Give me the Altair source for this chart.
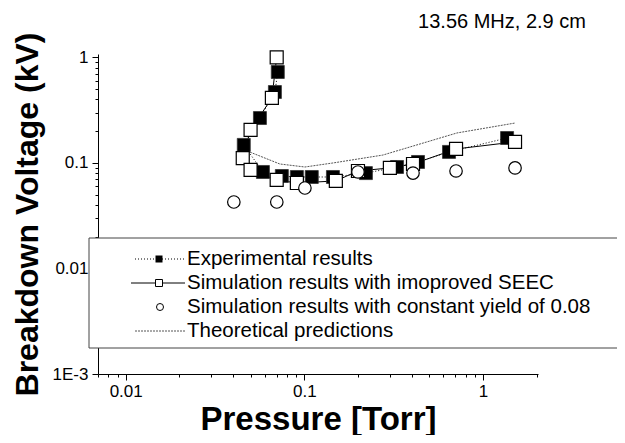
import altair as alt
import pandas as pd

# ---- data ----
exp_p = [0.0710, 0.0684, 0.0564, 0.0458, 0.0586, 0.0748, 0.0908, 0.110, 0.1445, 0.221, 0.330, 0.4325, 0.645, 1.363]
exp_v = [0.726, 0.469, 0.266, 0.148, 0.082, 0.0751, 0.0735, 0.0735, 0.0735, 0.080, 0.0914, 0.102, 0.127, 0.172]

sim_p = [0.070, 0.0658, 0.050, 0.0452, 0.050, 0.070, 0.0908, 0.150, 0.1995, 0.301, 0.4055, 0.706, 1.51]
sim_v = [1.0, 0.412, 0.205, 0.111, 0.0857, 0.0689, 0.0645, 0.0674, 0.0838, 0.0895, 0.0976, 0.1355, 0.158]

const_p = [0.0403, 0.0701, 0.1007, 0.1995, 0.4055, 0.706, 1.51]
const_v = [0.0426, 0.0426, 0.0578, 0.082, 0.080, 0.0838, 0.0895]

theo_p = [0.0496, 0.0729, 0.1007, 0.1445, 0.275, 0.714, 1.51]
theo_v = [0.1265, 0.0976, 0.0914, 0.0998, 0.1186, 0.192, 0.2385]

x_ticks = [0.007, 0.008, 0.009,
           0.01, 0.02, 0.03, 0.04, 0.05, 0.06, 0.07, 0.08, 0.09,
           0.1, 0.2, 0.3, 0.4, 0.5, 0.6, 0.7, 0.8, 0.9, 1, 2]
y_ticks = [0.001, 0.002, 0.003, 0.004, 0.005, 0.006, 0.007, 0.008, 0.009,
           0.01, 0.02, 0.03, 0.04, 0.05, 0.06, 0.07, 0.08, 0.09,
           0.1, 0.2, 0.3, 0.4, 0.5, 0.6, 0.7, 0.8, 0.9, 1]

legend_labels = ["Experimental results",
                 "Simulation results with imoproved SEEC",
                 "Simulation results with constant yield of 0.08",
                 "Theoretical predictions"]
annotation = "13.56 MHz, 2.9 cm"

FONT = "Arial"

def frame(p, v):
    return pd.DataFrame({"p": p, "v": v, "i": list(range(len(p)))})

df_exp = frame(exp_p, exp_v)
df_sim = frame(sim_p, sim_v)
df_const = frame(const_p, const_v)
df_theo = frame(theo_p, theo_v)

major = "abs(log(datum.value)/LN10 - round(log(datum.value)/LN10)) < 0.01"
lab = ("(datum.value < 0.002 ? '1E-3' : datum.value < 0.02 ? '0.01' : "
       "datum.value < 0.2 ? '0.1' : '1')")
label_expr = f"{major} ? {lab} : ''"
tick_size = {"condition": {"test": major, "value": 6}, "value": 3}

x_enc = alt.X("p:Q",
              scale=alt.Scale(type="log", domain=[0.007, 2.03], nice=False),
              axis=alt.Axis(values=x_ticks, tickSize=tick_size, labelExpr=label_expr,
                            title="Pressure [Torr]", titleFontSize=33, titleFontWeight="bold",
                            labelFontSize=17, labelPadding=3, titlePadding=4,
                            labelOverlap=False, labelFlush=False, grid=False,
                            domainColor="black", tickColor="black", labelColor="black",
                            titleColor="black"))
y_enc = alt.Y("v:Q",
              scale=alt.Scale(type="log", domain=[0.001, 1.075], nice=False),
              axis=alt.Axis(values=y_ticks, tickSize=tick_size, labelExpr=label_expr,
                            title="Breakdown Voltage (kV)", titleFontSize=32, titleFontWeight="bold",
                            labelFontSize=17, labelPadding=4, titlePadding=8,
                            labelOverlap=False, labelFlush=False, grid=False,
                            domainColor="black", tickColor="black", labelColor="black",
                            titleColor="black"))

theo_line = alt.Chart(df_theo).mark_line(color="#555555", strokeWidth=1, strokeDash=[2, 1]).encode(
    x=x_enc, y=y_enc, order="i:Q")
exp_line = alt.Chart(df_exp).mark_line(color="black", strokeWidth=1, strokeDash=[1, 2]).encode(
    x="p:Q", y="v:Q", order="i:Q")
sim_line = alt.Chart(df_sim).mark_line(color="black", strokeWidth=1).encode(
    x="p:Q", y="v:Q", order="i:Q")
exp_pts = alt.Chart(df_exp).mark_square(filled=True, color="black", size=169, opacity=1,
                                        stroke="#333333", strokeWidth=0.8).encode(x="p:Q", y="v:Q")
sim_pts = alt.Chart(df_sim).mark_square(filled=True, fill="white", stroke="black", strokeWidth=1.2,
                                        size=169, opacity=1).encode(x="p:Q", y="v:Q")
const_pts = alt.Chart(df_const).mark_point(shape="circle", filled=True, fill="white", stroke="black",
                                           strokeWidth=1.2, size=156, opacity=1).encode(x="p:Q", y="v:Q")

one = pd.DataFrame({"k": [0]})

# legend box: white fill, border on top, left and bottom (right side runs to the page edge)
BOX_R = 519
box = alt.Chart(one).mark_rect(fill="white", strokeWidth=0).encode(
    x=alt.value(-9), x2=alt.value(BOX_R), y=alt.value(184), y2=alt.value(294))
edge_top = alt.Chart(one).mark_rule(color="#444444", strokeWidth=1).encode(
    x=alt.value(-9), x2=alt.value(BOX_R), y=alt.value(184))
edge_bottom = alt.Chart(one).mark_rule(color="#444444", strokeWidth=1).encode(
    x=alt.value(-9), x2=alt.value(BOX_R), y=alt.value(294))
edge_left = alt.Chart(one).mark_rule(color="#444444", strokeWidth=1).encode(
    x=alt.value(-9), y=alt.value(184), y2=alt.value(294))

rows_y = [205, 229, 253, 277]
legend_layers = [box, edge_top, edge_bottom, edge_left]
# row 1: dotted line + filled square
legend_layers.append(alt.Chart(one).mark_rule(color="black", strokeWidth=1, strokeDash=[1, 2]).encode(
    x=alt.value(37), x2=alt.value(87), y=alt.value(rows_y[0])))
legend_layers.append(alt.Chart(one).mark_square(filled=True, color="black", size=49, opacity=1).encode(
    x=alt.value(61), y=alt.value(rows_y[0])))
# row 2: solid line + hollow square
legend_layers.append(alt.Chart(one).mark_rule(color="black", strokeWidth=1).encode(
    x=alt.value(33), x2=alt.value(87), y=alt.value(rows_y[1])))
legend_layers.append(alt.Chart(one).mark_square(filled=True, fill="white", stroke="black",
                                                strokeWidth=1, size=49, opacity=1).encode(
    x=alt.value(61), y=alt.value(rows_y[1])))
# row 3: hollow circle
legend_layers.append(alt.Chart(one).mark_point(shape="circle", filled=True, fill="white", stroke="black",
                                               strokeWidth=1, size=49, opacity=1).encode(
    x=alt.value(62), y=alt.value(rows_y[2])))
# row 4: grey dotted line
legend_layers.append(alt.Chart(one).mark_rule(color="#555555", strokeWidth=1, strokeDash=[2, 1]).encode(
    x=alt.value(37), x2=alt.value(87), y=alt.value(rows_y[3])))
for lbl, yy in zip(legend_labels, rows_y):
    legend_layers.append(alt.Chart(pd.DataFrame({"t": [lbl]})).mark_text(
        align="left", baseline="middle", fontSize=20.5, font=FONT, color="black").encode(
        x=alt.value(89), y=alt.value(yy), text="t:N"))

annot = alt.Chart(pd.DataFrame({"t": [annotation]})).mark_text(
    align="center", baseline="middle", fontSize=20, font=FONT, color="black").encode(
    x=alt.value(404), y=alt.value(-32), text="t:N")

chart = alt.layer(theo_line, exp_line, sim_line, exp_pts, sim_pts, const_pts,
                  *legend_layers, annot).properties(
    width=440, height=320,
    autosize=alt.AutoSizeParams(type="none"),
    padding={"left": 90, "top": 46, "right": 79, "bottom": 61},
    background="white",
).configure(font=FONT).configure_view(stroke="transparent").configure_axis(
    labelFont=FONT, titleFont=FONT, domainWidth=1, tickWidth=1)

chart.save("out.html", embed_options={"renderer": "svg", "actions": False})
